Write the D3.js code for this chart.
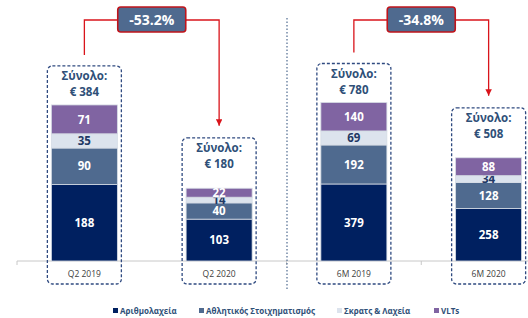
<!DOCTYPE html>
<html>
<head>
<meta charset="utf-8">
<script src="https://cdn.jsdelivr.net/npm/d3@7"></script>
<style>
  body { margin: 0; background: #fff; }
  svg { display: block; font-family: 'Open Sans', 'Noto Sans', sans-serif; }
</style>
</head>
<body>
<div class="main"><svg></svg></div>
<script>
const categories = ['Q2 2019', 'Q2 2020', '6M 2019', '6M 2020'];
const seriesNames = ['Αριθμολαχεία', 'Αθλητικός Στοιχηματισμός', 'Σκρατς & Λαχεία', 'VLTs'];
const lottery = [188, 103, 379, 258];
const betting = [90, 40, 192, 128];
const scratch = [35, 14, 69, 34];
const vlts = [71, 22, 140, 88];
const totals = [384, 180, 780, 508];
const changes = ['-53.2%', '-34.8%'];

const colors = ['#002060', '#4f6a8f', '#dce3ed', '#8064a2'];
const labelColors = ['#fff', '#fff', '#1f3864', '#fff'];

const svgWidth = 528, svgHeight = 318, baseY = 261;

const svg = d3.select('.main').select('svg')
  .attr('width', svgWidth)
  .attr('height', svgHeight);

const x = d3.scaleBand()
  .domain(categories)
  .range([17, 556]);
const barW = 66;

// quarterly and half-year groups use their own scales
const yQ = d3.scaleLinear().domain([0, 470]).range([baseY, 70]);
const yH = d3.scaleLinear().domain([0, 940]).range([baseY, 70]);
const yFor = i => (i < 2 ? yQ : yH);

const rows = categories.map((c, i) => ({
  cat: c, i: i, lottery: lottery[i], betting: betting[i], scratch: scratch[i], vlts: vlts[i]
}));
const keys = ['lottery', 'betting', 'scratch', 'vlts'];
const stacked = d3.stack().keys(keys)(rows);

// axis
svg.append('line')
  .attr('x1', 17).attr('x2', svgWidth)
  .attr('y1', baseY).attr('y2', baseY)
  .attr('stroke', '#c8c8c8');
svg.selectAll('.tick')
  .data([17, x('Q2 2020') + x.bandwidth(), x('6M 2020')])
  .enter().append('line')
  .attr('x1', d => d).attr('x2', d => d)
  .attr('y1', baseY).attr('y2', baseY + 4)
  .attr('stroke', '#c8c8c8');

// bars
stacked.forEach((layer, k) => {
  svg.append('g').selectAll('rect')
    .data(layer)
    .enter().append('rect')
    .attr('x', d => x(d.data.cat) + x.bandwidth() / 2 - barW / 2)
    .attr('width', barW)
    .attr('y', d => yFor(d.data.i)(d[1]))
    .attr('height', d => yFor(d.data.i)(d[0]) - yFor(d.data.i)(d[1]))
    .attr('fill', colors[k])
    .attr('stroke', '#d6dce5')
    .attr('stroke-width', 0.8);

  svg.append('g').selectAll('text')
    .data(layer)
    .enter().append('text')
    .attr('x', d => x(d.data.cat) + x.bandwidth() / 2)
    .attr('y', d => (yFor(d.data.i)(d[0]) + yFor(d.data.i)(d[1])) / 2)
    .attr('dy', '0.36em')
    .attr('text-anchor', 'middle')
    .attr('font-size', 11.5)
    .attr('font-weight', 'bold')
    .attr('fill', labelColors[k])
    .text(d => d[1] - d[0]);
});

// dashed total boxes
const boxTop = i => yFor(i)(totals[i]) - (i % 2 === 0 ? 39 : 50);
categories.forEach((c, i) => {
  const cx = x(c) + x.bandwidth() / 2;
  const top = boxTop(i);
  svg.append('rect')
    .attr('x', cx - 37).attr('width', 74)
    .attr('y', top).attr('height', 284 - top)
    .attr('rx', 5)
    .attr('fill', 'none')
    .attr('stroke', '#2f4a80')
    .attr('stroke-width', 1.3)
    .attr('stroke-dasharray', '3,2');
  svg.append('text')
    .attr('x', cx).attr('y', top + 14)
    .attr('text-anchor', 'middle')
    .attr('font-size', 11.5).attr('font-weight', 'bold')
    .attr('fill', '#2f5078')
    .text('Σύνολο:');
  svg.append('text')
    .attr('x', cx).attr('y', top + 30)
    .attr('text-anchor', 'middle')
    .attr('font-size', 11.5).attr('font-weight', 'bold')
    .attr('fill', '#2f5078')
    .text('€ ' + totals[i]);
  svg.append('text')
    .attr('x', cx).attr('y', 277)
    .attr('text-anchor', 'middle')
    .attr('font-size', 8.5)
    .attr('fill', '#404040')
    .text(c);
});

// divider
svg.append('line')
  .attr('x1', 287).attr('x2', 287)
  .attr('y1', 18).attr('y2', 291)
  .attr('stroke', '#4f6a8f')
  .attr('stroke-width', 1.2)
  .attr('stroke-dasharray', '1.5,2');

// change annotations
svg.append('defs').append('marker')
  .attr('id', 'arr')
  .attr('viewBox', '0 0 10 10')
  .attr('refX', 10).attr('refY', 5)
  .attr('markerWidth', 5).attr('markerHeight', 5)
  .attr('orient', 'auto')
  .append('path').attr('d', 'M0,0L10,5L0,10z').attr('fill', '#d9141b');

changes.forEach((ch, j) => {
  const a = j * 2, b = j * 2 + 1;
  const xa = x(categories[a]) + x.bandwidth() / 2;
  const xb = x(categories[b]) + x.bandwidth() / 2;
  const mid = (xa + xb) / 2;
  const lineY = 20;
  svg.append('path')
    .attr('d', `M${xa},${boxTop(a) - 11}V${lineY}H${mid - 34}`)
    .attr('fill', 'none').attr('stroke', '#d9141b').attr('stroke-width', 1.3);
  svg.append('path')
    .attr('d', `M${mid + 34},${lineY}H${xb}V${boxTop(b) - 12}`)
    .attr('fill', 'none').attr('stroke', '#d9141b').attr('stroke-width', 1.3)
    .attr('marker-end', 'url(#arr)');
  svg.append('rect')
    .attr('x', mid - 34).attr('y', 7)
    .attr('width', 68).attr('height', 25)
    .attr('rx', 3)
    .attr('fill', '#4f6a8f')
    .attr('stroke', '#c0141b').attr('stroke-width', 1.6);
  svg.append('text')
    .attr('x', mid).attr('y', 20)
    .attr('dy', '0.36em')
    .attr('text-anchor', 'middle')
    .attr('font-size', 14)
    .attr('font-weight', 'bold')
    .attr('fill', '#fff')
    .text(ch);
});

// legend
const legendX = [113, 199, 337, 434];
const legend = svg.selectAll('.legend')
  .data(seriesNames)
  .enter().append('g')
  .attr('transform', (d, i) => `translate(${legendX[i]},311)`);
legend.append('rect')
  .attr('x', 0).attr('y', -3)
  .attr('width', 5).attr('height', 5)
  .attr('fill', (d, i) => colors[i]);
legend.append('text')
  .attr('x', 7).attr('y', 0)
  .attr('dy', '0.34em')
  .attr('font-size', 8)
  .attr('font-weight', 'bold')
  .attr('fill', '#2f5078')
  .text(d => d);
</script>
</body>
</html>
